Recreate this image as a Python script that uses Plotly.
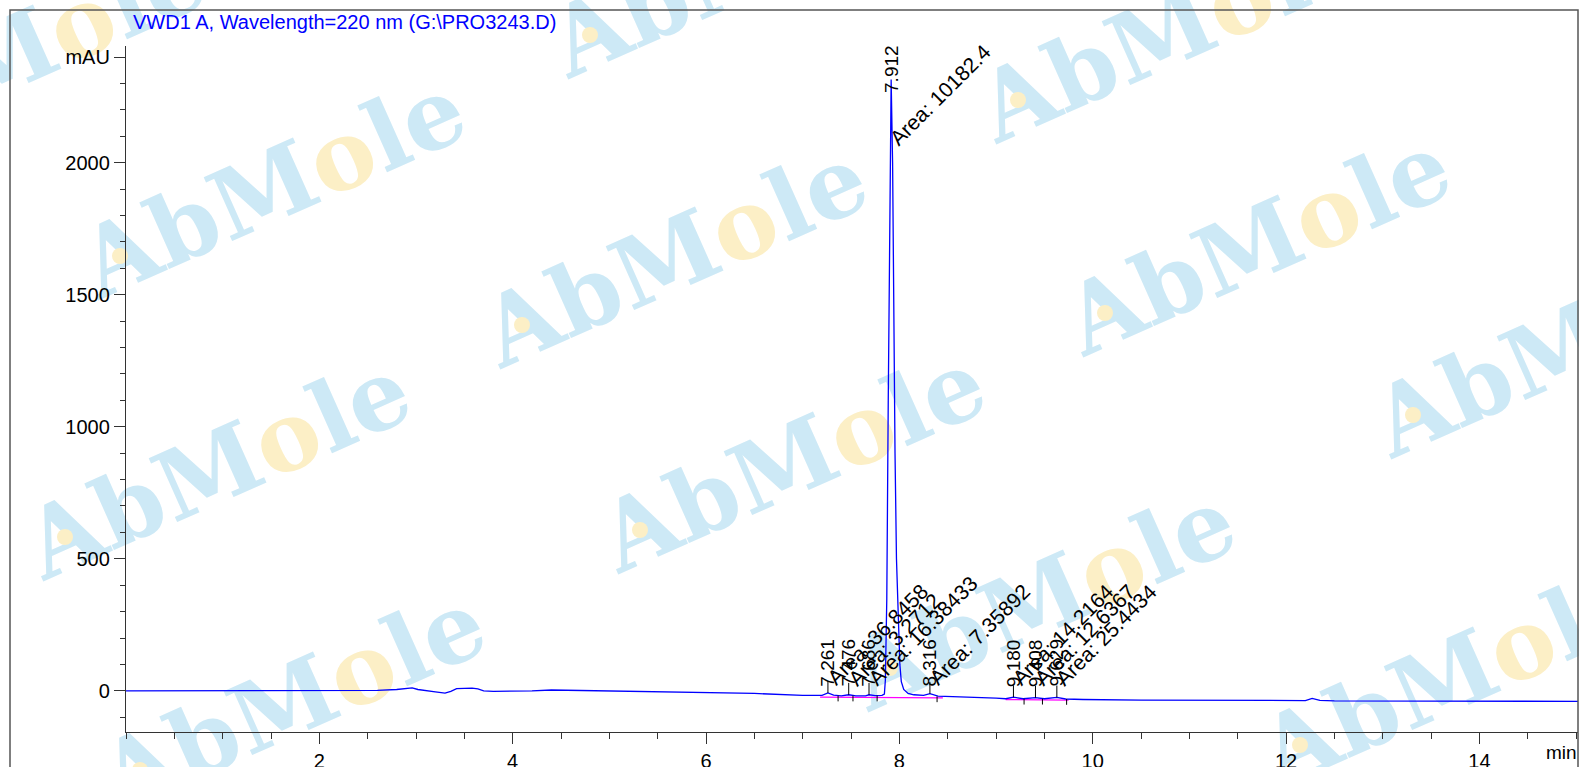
import plotly.graph_objects as go

# ---------------- data ----------------
time_min = [0.0, 0.5, 1.0, 1.5, 2.0, 2.4, 2.6, 2.8, 2.9, 2.96, 3.02, 3.1, 3.2, 3.3, 3.36,
            3.42, 3.5, 3.58, 3.64, 3.7, 3.8, 4.0, 4.2, 4.4, 4.6, 5.0, 5.5, 6.0, 6.5, 7.0,
            7.2, 7.261, 7.32, 7.4, 7.476, 7.55, 7.65, 7.686, 7.75, 7.82, 7.845, 7.855,
            7.87, 7.885, 7.9, 7.915, 7.93, 7.94, 7.955, 7.97, 7.99, 8.005, 8.02, 8.045,
            8.09, 8.15, 8.25, 8.316, 8.4, 8.6, 8.8, 9.0, 9.1, 9.18, 9.28, 9.408, 9.5,
            9.629, 9.72, 9.9, 10.5, 11.0, 11.5, 12.0, 12.2, 12.27, 12.35, 12.5, 13.0,
            13.5, 14.0, 14.5, 15.02]
signal_mau = [0, 0, 0, 0, 0, 1, 2, 5, 8, 11, 5, 0, -4, -9, -2,
              8, 10, 10, 7, 0, -2, -2, 0, 3, 2, 0, -3, -6, -10, -17,
              -17, -8, -16, -19, -15, -19, -19, -15, -18, -17, -12, 40,
              350, 1100, 1900, 2315, 2000, 1500, 900, 500, 280, 100, 35, 5,
              -10, -15, -17, -11, -20, -22, -25, -28, -30, -24, -30, -26, -30,
              -25, -31, -33, -35, -36, -37, -38, -37, -29, -36, -38, -38,
              -39, -39, -39, -40]
assert len(time_min) == len(signal_mau)

peak_rt = [7.261, 7.476, 7.686, 7.912, 8.316, 9.180, 9.408, 9.629]
peak_rt_text = ["7.261", "7.476", "7.686", "7.912", "8.316", "9.180", "9.408", "9.629"]
peak_area_text = ["Area: 36.8458", "Area: 3.2712", "Area: 16.38433", "Area: 10182.4",
                  "Area: 7.35892", "Area: 14.2164", "Area: 12.6367", "Area: 25.4434"]
peak_height = [-8, -15, -15, 2315, -11, -24, -26, -25]       # signal at apex
rt_label_base = [8, 8, 8, 2256, 8, 8, 8, 8]                   # where RT text starts
area_label_base = [-6, -6, -6, 2040, -6, -6, -6, -6]          # where area text starts

# integration baselines (magenta) and peak boundary marks
base_t0 = [7.18, 9.10]
base_t1 = [8.45, 9.75]
base_v0 = [-24, -33]
base_v1 = [-27, -35]
bound_t = [7.366, 7.52, 7.77, 8.39, 9.29, 9.48, 9.73]
bound_v = [-18, -18, -18, -21, -30, -30, -31]

y_tick_vals = [0, 500, 1000, 1500, 2000, 2400]
y_tick_text = ["0", "500", "1000", "1500", "2000", "mAU"]
x_tick_vals = [2, 4, 6, 8, 10, 12, 14]
x_tick_text = ["2", "4", "6", "8", "10", "12", "14"]

title_text = "VWD1 A, Wavelength=220 nm (G:\\PRO3243.D)"

# ---------------- figure ----------------
W, H = 1579, 767
L, R, T, B = 126, 1, 46, 35
PW, PH = W - L - R, H - T - B

def px2paper(px, py):
    return (px - L) / PW, (H - B - py) / PH

fig = go.Figure()

# magenta integration baselines
bx, by = [], []
for a, b, va, vb in zip(base_t0, base_t1, base_v0, base_v1):
    bx += [a, b, None]
    by += [va, vb, None]
fig.add_trace(go.Scatter(x=bx, y=by, mode="lines", line=dict(color="#ff00ff", width=1.3),
                         hoverinfo="skip", showlegend=False))

# signal
fig.add_trace(go.Scatter(x=time_min, y=signal_mau, mode="lines",
                         line=dict(color="#0000ff", width=1.3), showlegend=False))

# retention-time tick lines and boundary marks
tx, ty = [], []
for rt, h, lb in zip(peak_rt, peak_height, rt_label_base):
    if lb < 500:
        tx += [rt, rt, None]
        ty += [h, h + 45, None]
for t, v in zip(bound_t, bound_v):
    tx += [t, t, None]
    ty += [v, v - 22, None]
fig.add_trace(go.Scatter(x=tx, y=ty, mode="lines", line=dict(color="#000000", width=1),
                         hoverinfo="skip", showlegend=False))

font_main = "Arial, Liberation Sans, sans-serif"
annotations = []
for rt, txt, lb in zip(peak_rt, peak_rt_text, rt_label_base):
    annotations.append(dict(x=rt, y=lb, xref="x", yref="y", text=txt, showarrow=False,
                            textangle=-90, xanchor="center", yanchor="bottom",
                            font=dict(family=font_main, size=19, color="black")))
for rt, txt, ab in zip(peak_rt, peak_area_text, area_label_base):
    annotations.append(dict(x=rt, y=ab, xref="x", yref="y", text=txt, showarrow=False,
                            textangle=-45, xanchor="left", yanchor="bottom", xshift=-8,
                            font=dict(family=font_main, size=21, color="black")))
mx, my = px2paper(1579, 752)
annotations.append(dict(x=mx, y=my, xref="paper", yref="paper", text="min",
                        showarrow=False, xanchor="right", yanchor="middle",
                        font=dict(family=font_main, size=19, color="black")))

# watermark (drawn underneath): word centres in page pixels
wm_px = [(10, 48), (740, -40), (1168, 25), (270, 181), (672, 250), (1255, 238),
         (215, 462), (790, 455), (1563, 340), (290, 695), (1040, 593), (1450, 670)]
dot_dx, dot_dy = -150, 75
shapes = []
for (cx, cy) in wm_px:
    xp, yp = px2paper(cx, cy)
    shapes.append(dict(type="rect", xref="paper", yref="paper", x0=xp - 0.001, x1=xp + 0.001,
                       y0=yp - 0.001, y1=yp + 0.001, layer="below", line=dict(width=0),
                       label=dict(text="<b>AbM<span style='color:#fcefc6'>o</span>le</b>",
                                  textangle=-24, textposition="middle center",
                                  font=dict(family="DejaVu Serif", size=96, color="#cde9f6"))))
    dx0, dy0 = px2paper(cx + dot_dx - 8, cy + dot_dy - 8)
    dx1, dy1 = px2paper(cx + dot_dx + 8, cy + dot_dy + 8)
    shapes.append(dict(type="circle", xref="paper", yref="paper", x0=dx0, x1=dx1,
                       y0=dy1, y1=dy0, layer="below", line=dict(width=0),
                       fillcolor="#fcefc6"))
# outer frame
fx0, fy0 = px2paper(10, 10)
shapes.append(dict(type="rect", xref="paper", yref="paper", x0=fx0, x1=1.0, y0=-0.2, y1=fy0,
                   line=dict(color="#555555", width=1.5), layer="above"))

axis_common = dict(showline=True, linecolor="#333333", linewidth=1.3, ticks="outside",
                   tickcolor="#333333", ticklen=11, tickwidth=1.2, showgrid=False,
                   zeroline=False, automargin=False,
                   tickfont=dict(family=font_main, size=20, color="black"))
fig.update_layout(
    width=W, height=H, margin=dict(l=L, r=R, t=T, b=B, autoexpand=False),
    paper_bgcolor="white", plot_bgcolor="rgba(0,0,0,0)",
    title=dict(text=title_text, x=133 / W, xref="container", xanchor="left",
               y=1 - 22 / H, yref="container", yanchor="middle",
               font=dict(family=font_main, size=20, color="#0000ff")),
    xaxis=dict(range=[0, 15.02], tickmode="array", tickvals=x_tick_vals, ticktext=x_tick_text,
               minor=dict(tickmode="linear", tick0=0, dtick=0.5, ticklen=6, ticks="outside",
                          tickcolor="#333333"), **axis_common),
    yaxis=dict(range=[-156, 2442], tickmode="array", tickvals=y_tick_vals, ticktext=y_tick_text,
               minor=dict(tickmode="linear", tick0=0, dtick=100, ticklen=5, ticks="outside",
                          tickcolor="#333333"), **axis_common),
    annotations=annotations, shapes=shapes, showlegend=False,
)
fig.write_html("out.html", config={"displayModeBar": False},
               post_script="document.body.style.margin='0';document.body.style.overflow='hidden';")
